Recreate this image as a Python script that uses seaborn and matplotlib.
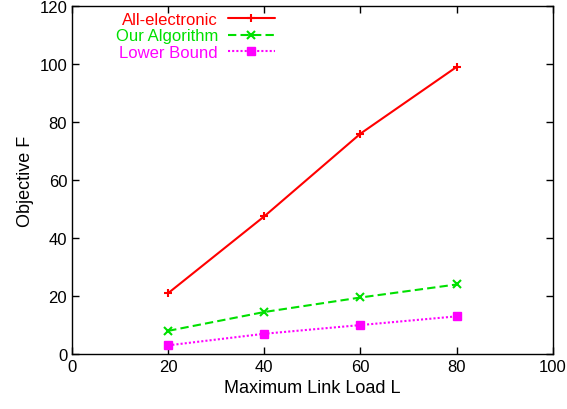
import matplotlib
matplotlib.use("Agg")
import matplotlib.pyplot as plt
import seaborn as sns
import pandas as pd

loads = [20, 40, 60, 80]
all_electronic = [21, 47.5, 76, 99]
our_algorithm = [8, 14.5, 19.5, 24]
lower_bound = [3, 7, 10, 13]
series_names = ["All-electronic", "Our Algorithm", "Lower Bound"]

sns.set_theme(style="ticks")
plt.rcParams['font.family'] = ['Liberation Sans', 'DejaVu Sans']
plt.rcParams['text.color'] = 'black'
plt.rcParams['axes.labelcolor'] = 'black'

fig = plt.figure(figsize=(5.67, 4.10), dpi=100)
ax = fig.add_axes([0.127, 0.134, 0.848, 0.849])

styles = [
    dict(color="#ff0000", marker="+", linestyle="-", markersize=6, markeredgewidth=1.5, linewidth=1.5),
    dict(color="#00e000", marker="x", linestyle=(0, (4, 2)), markersize=6, markeredgewidth=1.5, linewidth=1.5),
    dict(color="#ff00ff", marker="s", linestyle=(0, (1, 1)), markersize=6, markeredgewidth=1, linewidth=1.5),
]
for name, vals, st in zip(series_names, [all_electronic, our_algorithm, lower_bound], styles):
    df = pd.DataFrame({"L": loads, "F": vals})
    sns.lineplot(data=df, x="L", y="F", ax=ax, label=name, markeredgecolor=st["color"],
                 markerfacecolor=st["color"], **st)

ax.set_xlim(0, 100)
ax.set_ylim(0, 120)
ax.set_xticks([0, 20, 40, 60, 80, 100])
ax.set_yticks([0, 20, 40, 60, 80, 100, 120])
ax.tick_params(direction="in", top=True, right=True, length=5, width=1, labelsize=12, colors="black")
for s in ax.spines.values():
    s.set_linewidth(1)
    s.set_color("black")
ax.set_xlabel("Maximum Link Load L", fontsize=13)
ax.set_ylabel("Objective F", fontsize=13)

leg = ax.legend(loc="upper left", bbox_to_anchor=(0.07, 1.012), markerfirst=False, frameon=False,
                labelcolor="linecolor", fontsize=12, handlelength=2.8, handletextpad=0.6,
                labelspacing=0.1, borderaxespad=0.2)
for t in leg.get_texts():
    t.set_ha("right")
leg._legend_box.align = "right"

fig.savefig("out.png", dpi=100)
